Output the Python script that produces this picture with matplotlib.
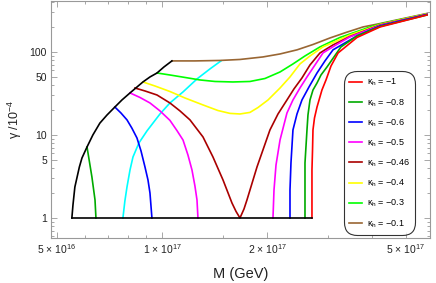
import matplotlib
matplotlib.use("Agg")
import matplotlib.pyplot as plt
from matplotlib.ticker import FixedLocator, NullFormatter, FixedFormatter

plt.rcParams['font.family'] = ['Liberation Sans', 'DejaVu Sans']
plt.rcParams['mathtext.fontset'] = 'custom'
plt.rcParams['mathtext.rm'] = 'Liberation Sans'
plt.rcParams['mathtext.it'] = 'Liberation Sans:italic'
plt.rcParams['mathtext.default'] = 'regular'

E17 = 1e17

# boundary (black)
black_M = [0.552, 0.556, 0.563, 0.580, 0.590, 0.610, 0.634, 0.664, 0.696, 0.733,
           0.768, 0.810, 0.882, 0.924, 0.968, 1.013, 1.068]
black_g = [1, 1.435, 2.36, 4.12, 5.28, 7.17, 10.0, 13.9, 17.4, 21.7,
           26.4, 32.1, 43.5, 50.0, 55.8, 65.9, 78]
floor_M = [0.552, 2.69]
floor_g = [1, 1]

# cyan boundary
cyan_M = [0.773, 0.783, 0.794, 0.810, 0.826, 0.859, 0.906, 0.987, 1.054, 1.149, 1.260, 1.372, 1.476]
cyan_g = [1, 1.60, 2.36, 3.79, 5.43, 8.01, 11.2, 17.9, 24.3, 33.0, 47.3, 62.4, 78]

# kappa_h = -1 (red)
red_M = [2.690, 2.690, 2.700, 2.708, 2.735, 2.781, 2.873, 2.951, 3.050, 3.196, 3.621, 4.214, 5.745]
red_g = [1, 3.79, 6.6, 11.5, 16.0, 21.7, 34.8, 46.0, 67.8, 97.3, 149.5, 200, 279]

# kappa_h = -0.8 (dark green), left and right branches
dgreen_L_M = [0.610, 0.630, 0.643, 0.647]
dgreen_L_g = [7.17, 3.12, 1.65, 1]
dgreen_R_M = [2.569, 2.569, 2.603, 2.620, 2.655, 2.708, 2.781, 2.855, 2.970, 3.257, 3.621, 4.214, 5.745]
dgreen_R_g = [1, 4.6, 11.5, 17.4, 26.4, 34.8, 42.3, 52.8, 65.9, 115, 156, 203, 279]

# kappa_h = -0.6 (blue)
blue_L_M = [0.733, 0.763, 0.794, 0.820, 0.848, 0.871, 0.894, 0.912, 0.924, 0.936]
blue_L_g = [21.7, 18.4, 15.2, 12.1, 9.2, 6.42, 4.12, 2.87, 2.0, 1]
blue_R_M = [2.327, 2.327, 2.342, 2.373, 2.437, 2.518, 2.638, 2.781, 2.931, 3.090, 3.621, 4.214, 5.745]
blue_R_g = [1, 2.17, 4.6, 11.5, 17.9, 26.4, 37.9, 55.8, 78, 106, 156, 206, 283]

# kappa_h = -0.5 (magenta)
mag_L_M = [0.810, 0.865, 0.924, 0.987, 1.054, 1.104, 1.149, 1.187, 1.219, 1.243, 1.260, 1.268]
mag_L_g = [32.1, 28.3, 24.3, 19.5, 15.0, 11.3, 8.7, 5.74, 3.79, 2.43, 1.65, 1]
mag_R_M = [2.080, 2.094, 2.122, 2.179, 2.281, 2.373, 2.485, 2.603, 2.893, 3.152, 3.457, 4.214, 5.745]
mag_R_g = [1, 2.17, 4.35, 8.7, 18.4, 26.4, 36.8, 50.0, 97.3, 121.5, 152, 209, 283]

# kappa_h = -0.46 (dark red)
dred_M = [0.837, 0.894, 0.968, 1.054, 1.126, 1.203, 1.311, 1.400, 1.496, 1.587, 1.630, 1.673,
          1.718, 1.752, 1.872, 2.039, 2.150, 2.281, 2.388, 2.518, 2.655, 2.836, 3.090, 3.457, 4.214, 5.745]
dred_g = [36.8, 33.9, 30.3, 24.3, 19.5, 15.2, 9.46, 5.43, 2.87, 1.516, 1.20, 1,
          1.284, 1.65, 4.12, 11.5, 17.9, 26.4, 35.8, 48.6, 69.7, 97.3, 121.5, 153.7, 211, 283]

# kappa_h = -0.4 (yellow)
yel_M = [0.882, 0.955, 1.054, 1.164, 1.311, 1.447, 1.566, 1.673, 1.787, 1.884, 2.013, 2.179,
         2.327, 2.485, 2.655, 2.893, 3.457, 4.214, 5.745]
yel_g = [43.5, 38.9, 33.4, 27.9, 23.0, 19.7, 18.2, 17.9, 18.7, 21.4, 26.4, 36.8,
         50.0, 71.7, 89.5, 115, 160, 214, 287]

# kappa_h = -0.3 (green)
lgr_M = [0.968, 1.054, 1.164, 1.285, 1.419, 1.597, 1.787, 1.973, 2.179, 2.373, 2.569, 2.836,
         3.236, 3.945, 4.214, 5.745]
lgr_g = [55.8, 52.8, 49.3, 46.0, 44.1, 43.5, 44.1, 47.9, 57.4, 71.7, 89.5, 115,
         149.5, 200, 217, 287]

# kappa_h = -0.1 (brown)
brn_M = [1.068, 1.243, 1.466, 1.673, 1.947, 2.179, 2.437, 2.708, 3.030, 3.368, 3.766, 4.214, 5.745]
brn_g = [78, 78, 79, 81.2, 87.1, 94.6, 106, 123, 147.5, 171.8, 200, 220, 291]

legend_labels = ['κ$_h$ = −1', 'κ$_h$ = −0.8', 'κ$_h$ = −0.6', 'κ$_h$ = −0.5',
                 'κ$_h$ = −0.46', 'κ$_h$ = −0.4', 'κ$_h$ = −0.3', 'κ$_h$ = −0.1']
legend_colors = ['#ff0000', '#00aa00', '#0000ff', '#ff00ff',
                 '#aa0000', '#ffff00', '#00ff00', '#996633']

xticks = [5e16, 1e17, 2e17, 5e17]
xtick_labels = ['5 × 10$^{16}$', '1 × 10$^{17}$', '2 × 10$^{17}$', '5 × 10$^{17}$']
xminor = [6e16, 7e16, 8e16, 9e16, 1.5e17, 3e17, 4e17]
yticks = [1, 5, 10, 50, 100]
ytick_labels = ['1', '5', '10', '50', '100']
yminor = [0.6, 0.7, 0.8, 0.9, 2, 3, 4, 6, 7, 8, 9, 20, 30, 40, 60, 70, 80, 90, 200, 300, 400]

fig = plt.figure(figsize=(4.36, 2.83), dpi=100)
ax = fig.add_axes([51/436, 1 - 238/283, 379/436, 237/283])
ax.set_xscale('log')
ax.set_yscale('log')
lw = 1.2

def sc(Ms):
    return [m * E17 for m in Ms]

ax.plot(sc(cyan_M), cyan_g, color='#00ffff', lw=lw)
ax.plot(sc(brn_M), brn_g, color=legend_colors[7], lw=lw)
ax.plot(sc(lgr_M), lgr_g, color=legend_colors[6], lw=lw)
ax.plot(sc(yel_M), yel_g, color=legend_colors[5], lw=lw)
ax.plot(sc(dred_M), dred_g, color=legend_colors[4], lw=lw)
ax.plot(sc(mag_L_M), mag_L_g, color=legend_colors[3], lw=lw)
ax.plot(sc(mag_R_M), mag_R_g, color=legend_colors[3], lw=lw)
ax.plot(sc(blue_L_M), blue_L_g, color=legend_colors[2], lw=lw)
ax.plot(sc(blue_R_M), blue_R_g, color=legend_colors[2], lw=lw)
ax.plot(sc(dgreen_L_M), dgreen_L_g, color=legend_colors[1], lw=lw)
ax.plot(sc(dgreen_R_M), dgreen_R_g, color=legend_colors[1], lw=lw)
ax.plot(sc(red_M), red_g, color=legend_colors[0], lw=lw)
ax.plot(sc(black_M), black_g, color='black', lw=lw)
ax.plot(sc(floor_M), floor_g, color='black', lw=lw)

ax.set_xlim(4.81e16, 5.86e17)
ax.set_ylim(0.574, 411)

ax.xaxis.set_major_locator(FixedLocator(xticks))
ax.xaxis.set_major_formatter(FixedFormatter(xtick_labels))
ax.xaxis.set_minor_locator(FixedLocator(xminor))
ax.xaxis.set_minor_formatter(NullFormatter())
ax.yaxis.set_major_locator(FixedLocator(yticks))
ax.yaxis.set_major_formatter(FixedFormatter(ytick_labels))
ax.yaxis.set_minor_locator(FixedLocator(yminor))
ax.yaxis.set_minor_formatter(NullFormatter())

ax.tick_params(which='both', direction='in', top=True, right=True, color='#999999', width=0.6,
               labelsize=7.5, labelcolor='#222222')
ax.tick_params(which='major', length=4, pad=3)
ax.tick_params(which='minor', length=2)
for s in ax.spines.values():
    s.set_color('#999999')
    s.set_linewidth(0.8)

ax.set_xlabel('M (GeV)', fontsize=10.5, color='#222222', labelpad=8)
ax.set_ylabel('γ /10$^{-4}$', fontsize=9, color='#222222', labelpad=4)

handles = [plt.Line2D([], [], color=c, lw=1.2) for c in legend_colors]
leg = ax.legend(handles, legend_labels, loc='lower left', bbox_to_anchor=(0.773, 0.013),
                borderaxespad=0, fontsize=6.5, handlelength=1.45, handletextpad=0.45,
                labelspacing=0.96, borderpad=0.6, frameon=True, fancybox=True)
fr = leg.get_frame()
fr.set_edgecolor('black')
fr.set_linewidth(0.8)
fr.set_boxstyle('round,pad=0,rounding_size=1.4')

fig.savefig('out.png', dpi=100)
